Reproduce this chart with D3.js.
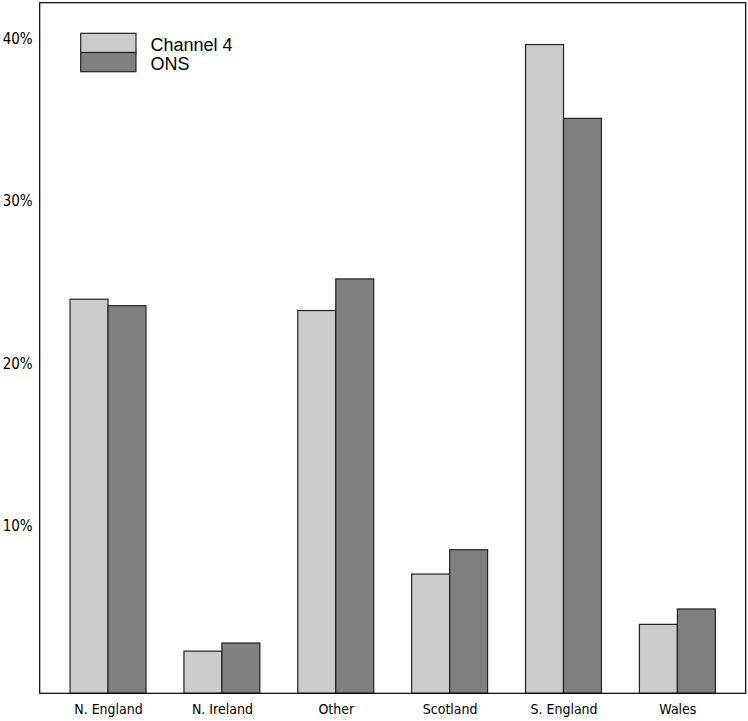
<!DOCTYPE html>
<html>
<head>
<meta charset="utf-8">
<script src="https://cdn.jsdelivr.net/npm/d3@7"></script>
<style>
  html, body { margin: 0; padding: 0; background: #fff; }
  svg { display: block; }
</style>
</head>
<body>
<svg id="chart" width="748" height="721"></svg>
<script>
const categories = ["N. England", "N. Ireland", "Other", "Scotland", "S. England", "Wales"];
const seriesNames = ["Channel 4", "ONS"];
const channel4 = [24.3, 2.6, 23.6, 7.35, 40.0, 4.25];
const ons = [23.9, 3.1, 25.55, 8.85, 35.45, 5.2];
const yTicks = [10, 20, 30, 40];
const colors = ["#cccccc", "#808080"];

const svg = d3.select("#chart");
const padL = 39.7, padR = 745.7, padT = 2.7, padB = 693.3;

const x = d3.scaleLinear().domain([0.2, 18.8]).range([padL, padR]);
const y = d3.scaleLinear().domain([0, 42.58]).range([padB, padT]);

const series = [channel4, ons];
const bars = [];
categories.forEach((c, i) => {
  series.forEach((s, j) => {
    bars.push({cat: c, i, j, v: s[i]});
  });
});

svg.append("g").selectAll("rect").data(bars).join("rect")
  .attr("x", d => x(1 + 3 * d.i + d.j))
  .attr("width", d => x(2 + 3 * d.i + d.j) - x(1 + 3 * d.i + d.j))
  .attr("y", d => y(d.v))
  .attr("height", d => y(0) - y(d.v))
  .attr("fill", d => colors[d.j])
  .attr("stroke", "#222")
  .attr("stroke-width", 1.2);

// box
svg.append("rect")
  .attr("x", padL).attr("y", padT)
  .attr("width", padR - padL).attr("height", padB - padT)
  .attr("fill", "none").attr("stroke", "#000").attr("stroke-width", 1.2);

// y axis
const yAxis = svg.append("g")
  .attr("transform", `translate(${padL},0)`)
  .call(d3.axisLeft(y).tickValues(yTicks).tickSize(0).tickPadding(7).tickFormat(d => d + "%"));
yAxis.select(".domain").remove();
yAxis.selectAll("text")
  .attr("font-family", "'DejaVu Sans Condensed', 'DejaVu Sans', sans-serif")
  .attr("font-size", 15)
  .attr("fill", "#000")
  .attr("dy", "-0.05em");

// x axis
const xAxis = svg.append("g")
  .attr("transform", `translate(0,${padB})`)
  .call(d3.axisBottom(x).tickValues(categories.map((c, i) => 2 + 3 * i)).tickSize(0).tickPadding(11)
    .tickFormat((d, i) => categories[i]));
xAxis.select(".domain").remove();
xAxis.selectAll("text")
  .attr("font-family", "'DejaVu Sans Condensed', 'DejaVu Sans', sans-serif")
  .attr("font-size", 14)
  .attr("fill", "#000");

// legend
const lg = svg.append("g");
const lx = 80.7, ly = 33.3, lw = 55.3, lh = 19.2;
seriesNames.forEach((name, j) => {
  lg.append("rect")
    .attr("x", lx).attr("y", ly + j * lh)
    .attr("width", lw).attr("height", lh)
    .attr("fill", colors[j]).attr("stroke", "#222").attr("stroke-width", 1.2);
  lg.append("text")
    .attr("x", 150.5).attr("y", ly + j * lh + lh / 2 + 2)
    .attr("dominant-baseline", "central")
    .attr("font-family", "'Liberation Sans', Arial, sans-serif")
    .attr("font-size", 18)
    .attr("fill", "#000")
    .text(name);
});
</script>
</body>
</html>
